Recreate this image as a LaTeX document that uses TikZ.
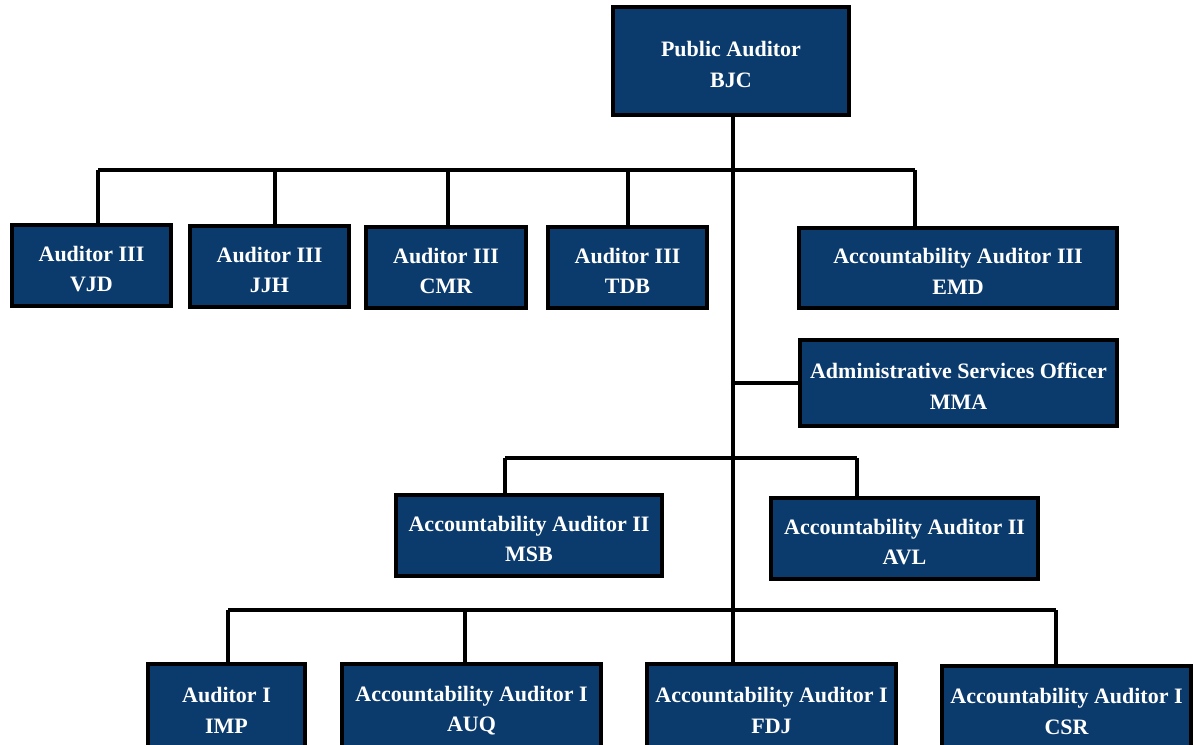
\documentclass[tikz,border=0pt]{standalone}
\usepackage{fontspec}
\setmainfont{Liberation Serif}
\definecolor{boxblue}{HTML}{0B3B6C}
\tikzset{
  obox/.style={draw=black, line width=2.6pt, fill=boxblue, inner sep=0pt},
  otext/.style={text=white, font=\bfseries\fontsize{16.5}{23}\selectfont, align=center, inner sep=0pt},
  link/.style={draw=black, line width=2.5pt}
}
\newcommand\orgbox[6]{\node[obox, minimum width={(#4-#2)*0.75pt}, minimum height={(#5-#3)*0.75pt}] (#1) at ({(#2+#4)/2},{(#3+#5)/2}) {};
\node[otext] (#1t) at ([yshift=-2.6pt]#1.center) {#6};}
\begin{document}
\begin{tikzpicture}[x=0.75pt, y=-0.75pt]
\useasboundingbox (0,0) rectangle (1194,744);
\clip (0,0) rectangle (1194,744);
\fill[white] (0,0) rectangle (1194,744);
% boxes
\orgbox{pa}{613}{7}{849}{115}{Public Auditor\\BJC}
\orgbox{vjd}{12}{225}{171}{306}{Auditor III\\VJD}
\orgbox{jjh}{190}{226}{349}{307}{Auditor III\\JJH}
\orgbox{cmr}{366}{227}{526}{308}{Auditor III\\CMR}
\orgbox{tdb}{548}{227}{707}{308}{Auditor III\\TDB}
\orgbox{emd}{799}{228}{1117}{308}{Accountability Auditor III\\EMD}
\orgbox{mma}{800}{340}{1117}{426}{Administrative Services Officer\\MMA}
\orgbox{msb}{396}{495}{662}{576}{Accountability Auditor II\\MSB}
\orgbox{avl}{771}{498}{1038}{579}{Accountability Auditor II\\AVL}
\orgbox{imp}{148}{664}{305}{750}{Auditor I\\IMP}
\orgbox{auq}{342}{664}{601}{750}{Accountability Auditor I\\AUQ}
\orgbox{fdj}{647}{664}{896}{750}{Accountability Auditor I\\FDJ}
\orgbox{csr}{942}{666}{1191}{750}{Accountability Auditor I\\CSR}
% bus coordinates
\coordinate (t1) at (98,170);
\coordinate (t2) at (275,170);
\coordinate (t3) at (448,170);
\coordinate (t4) at (628,170);
\coordinate (t5) at (915,170);
\coordinate (r1) at (505,458);
\coordinate (r2) at (857,458);
\coordinate (b1) at (228,610);
\coordinate (b2) at (465,610);
\coordinate (b3) at (733,610);
\coordinate (b4) at (1056,610);
% connectors
\draw[link] (pa.south -| b3) -- (b3 |- fdj.north);
\draw[link] (t1) -- (t5);
\draw[link] (t1) -- (t1 |- vjd.north);
\draw[link] (t2) -- (t2 |- jjh.north);
\draw[link] (t3) -- (t3 |- cmr.north);
\draw[link] (t4) -- (t4 |- tdb.north);
\draw[link] (t5) -- (t5 |- emd.north);
\draw[link] (b3 |- mma.west) -- (mma.west);
\draw[link] (r1) -- (r2);
\draw[link] (r1) -- (r1 |- msb.north);
\draw[link] (r2) -- (r2 |- avl.north);
\draw[link] (b1) -- (b4);
\draw[link] (b1) -- (b1 |- imp.north);
\draw[link] (b2) -- (b2 |- auq.north);
\draw[link] (b4) -- (b4 |- csr.north);
\end{tikzpicture}
\end{document}
